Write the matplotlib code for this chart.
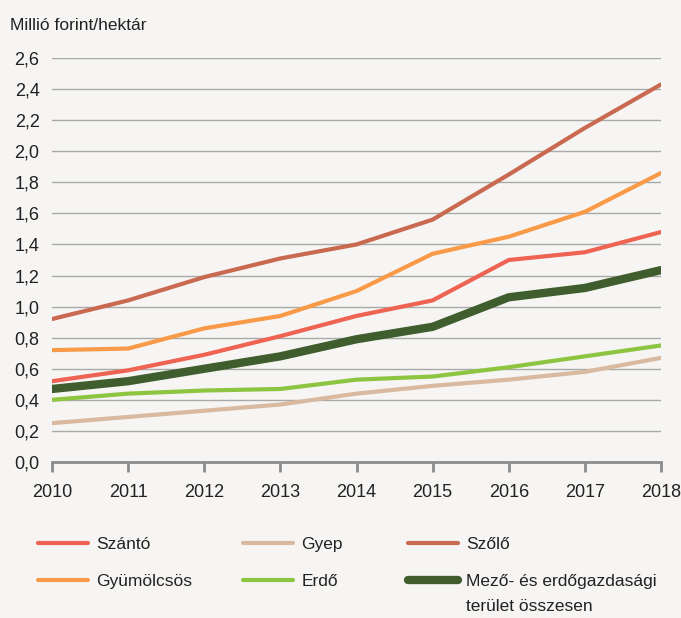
import numpy as np
import matplotlib.pyplot as plt
from matplotlib.lines import Line2D

plt.rcParams['font.family'] = ['Liberation Sans', 'DejaVu Sans']

# Adatok (millió forint/hektár)
evek = [2010, 2011, 2012, 2013, 2014, 2015, 2016, 2017, 2018]
szanto = [0.52, 0.59, 0.69, 0.81, 0.94, 1.04, 1.30, 1.35, 1.48]
gyep = [0.25, 0.29, 0.33, 0.37, 0.44, 0.49, 0.53, 0.58, 0.67]
szolo = [0.92, 1.04, 1.19, 1.31, 1.40, 1.56, 1.85, 2.15, 2.43]
gyumolcsos = [0.72, 0.73, 0.86, 0.94, 1.10, 1.34, 1.45, 1.61, 1.86]
erdo = [0.40, 0.44, 0.46, 0.47, 0.53, 0.55, 0.61, 0.68, 0.75]
osszesen = [0.47, 0.52, 0.60, 0.68, 0.79, 0.87, 1.06, 1.12, 1.235]

yticks = np.arange(0, 2.61, 0.2)
ylabels = [f"{v:.1f}".replace('.', ',') for v in yticks]

bg = '#f6f5f3'
fig = plt.figure(figsize=(6.81, 6.18), dpi=100, facecolor=bg)
ax = fig.add_axes([52/681, 1 - 462/618, 609/681, 404/618])
ax.set_facecolor(bg)

sorozatok = [
    ('Szántó', szanto, '#ee6352', 3.0),
    ('Gyep', gyep, '#d9b99f', 3.0),
    ('Szőlő', szolo, '#c96a50', 3.0),
    ('Gyümölcsös', gyumolcsos, '#f89a48', 3.0),
    ('Erdő', erdo, '#8dc540', 3.0),
    ('Mező- és erdőgazdasági', osszesen, '#3f5d2d', 6.0),
]
vonalak = {}
for nev, adat, szin, vastag in sorozatok:
    vonalak[nev], = ax.plot(evek, adat, color=szin, lw=vastag,
                            solid_capstyle='round', solid_joinstyle='round',
                            zorder=3)

ax.set_xlim(2010, 2018)
ax.set_ylim(0, 2.6)
ax.set_yticks(yticks)
ax.set_yticklabels(ylabels)
ax.set_xticks(evek)
ax.grid(axis='y', color='#a9a9a9', lw=1.0)
ax.set_axisbelow(True)
for s in ['left', 'right', 'top']:
    ax.spines[s].set_visible(False)
ax.spines['bottom'].set_color('#8c8c8c')
ax.spines['bottom'].set_linewidth(2)
ax.spines['bottom'].set_zorder(4)
ax.tick_params(axis='y', length=0, pad=9, labelsize=13, labelcolor='#222222')
ax.tick_params(axis='x', length=7, width=2, color='#8c8c8c', pad=9,
               labelsize=13, labelcolor='#222222')
for lbl in ax.get_xticklabels():
    lbl.set_clip_on(False)

fig.text(10/681, 1 - 25/618, 'Millió forint/hektár', fontsize=12.5,
         color='#222222', va='center', ha='left')

# Jelmagyarázat három oszlopban
oszlopok = [
    (38, ['Szántó', 'Gyümölcsös']),
    (243, ['Gyep', 'Erdő']),
    (408, ['Szőlő', 'Mező- és erdőgazdasági']),
]
legendak = []
for x0, nevek in oszlopok:
    kezelok = [Line2D([], [], color=vonalak[n].get_color(),
                      lw=vonalak[n].get_linewidth(), solid_capstyle='round')
               for n in nevek]
    leg = fig.legend(kezelok, nevek, loc='upper left',
                     bbox_to_anchor=(x0/681, 1 - 537/618),
                     bbox_transform=fig.transFigure, frameon=False,
                     fontsize=12.5, handlelength=2.9, handletextpad=0.45,
                     borderpad=0, borderaxespad=0, labelspacing=1.25,
                     labelcolor='#222222')
    legendak.append(leg)

# a hosszú címke második sora a jelmagyarázat szövege alá
fig.canvas.draw()
szoveg = legendak[2].get_texts()[1]
bb = szoveg.get_window_extent().transformed(fig.transFigure.inverted())
fig.text(bb.x0, bb.y0 - 25/618 + (bb.y1 - bb.y0) / 2, 'terület összesen',
         fontsize=12.5, color='#222222', ha='left', va='center')

fig.savefig('out.png', dpi=100, facecolor=bg)
